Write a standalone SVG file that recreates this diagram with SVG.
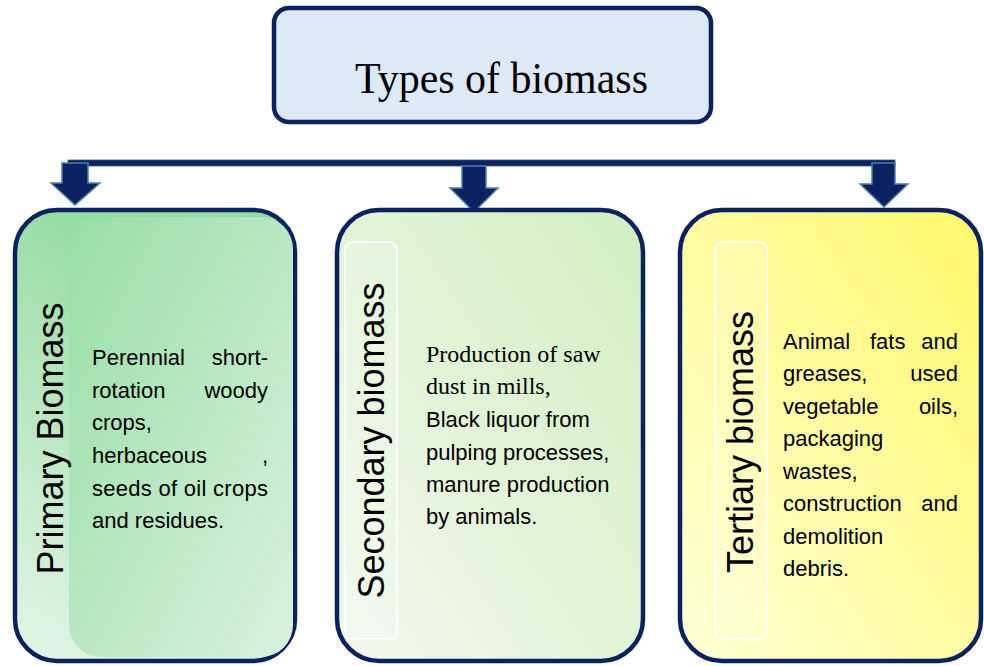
<svg xmlns="http://www.w3.org/2000/svg" width="984" height="666" viewBox="0 0 984 666">
<defs>
<linearGradient id="g1o" x1="0.3" y1="0" x2="0" y2="1">
<stop offset="0" stop-color="#93dba1"/><stop offset="1" stop-color="#e4f5e7"/>
</linearGradient>
<linearGradient id="g1i" x1="0" y1="0" x2="1" y2="1">
<stop offset="0" stop-color="#98dea6"/><stop offset="1" stop-color="#d9f1dd"/>
</linearGradient>
<linearGradient id="g2" x1="1" y1="0" x2="0" y2="1">
<stop offset="0" stop-color="#d2eec1"/><stop offset="1" stop-color="#f1f9ed"/>
</linearGradient>
<linearGradient id="g3" x1="1" y1="0" x2="0" y2="1">
<stop offset="0" stop-color="#fff86a"/><stop offset="1" stop-color="#ffffd6"/>
</linearGradient>
<style>
.box{stroke:#0b2262;stroke-width:4.5}
.arrow{fill:#0b2262;stroke:#4f7fae;stroke-width:1.5}
.strip{fill:#ffffff;fill-opacity:0.15;stroke:#ffffff;stroke-opacity:0.9;stroke-width:2}
.sans{font-family:"Liberation Sans",Arial,sans-serif;font-size:22px;fill:#000}
.serif{font-family:"Liberation Serif","Times New Roman",serif;font-size:24px;fill:#000}
.vert{font-family:"Liberation Sans",Arial,sans-serif;font-size:36px;fill:#000;text-anchor:middle}
.end{text-anchor:end}
</style>
</defs>
<rect width="984" height="666" fill="#ffffff"/>

<g id="connectors">
<rect x="68" y="160" width="827" height="6" fill="#0b2262" stroke="#2e5a8e" stroke-width="0.8"/>
<polygon class="arrow" points="62,163 88,163 88,183 100,183 75,205 51,183 62,183"/>
<polygon class="arrow" points="462,166 486,166 486,188 498,188 474,212 450,188 462,188"/>
<polygon class="arrow" points="872,163 895,163 895,184 908,184 884,207 860,184 872,184"/>
</g>

<g id="title">
<rect class="box" x="274" y="8" width="437" height="114" rx="15" fill="#dde9f5"/>
<text x="355" y="93" font-family="'Liberation Serif','Times New Roman',serif" font-size="44" textLength="293" lengthAdjust="spacingAndGlyphs" fill="#000">Types of biomass</text>
</g>

<g id="primary">
<rect class="box" x="15" y="210" width="280" height="451" rx="42" fill="url(#g1o)"/>
<rect x="69" y="217" width="224" height="440" rx="32" fill="url(#g1i)"/>
<text class="vert" transform="translate(63,438.5) rotate(-90)">Primary Biomass</text>
<text class="sans" x="92" y="365">Perennial</text><text class="sans end" x="268" y="365">short-</text>
<text class="sans" x="92" y="398">rotation</text><text class="sans end" x="268" y="398">woody</text>
<text class="sans" x="92" y="430">crops,</text>
<text class="sans" x="92" y="463">herbaceous</text><text class="sans end" x="268" y="463">,</text>
<text class="sans" x="92" y="496" textLength="176" lengthAdjust="spacing">seeds of oil crops</text>
<text class="sans" x="92" y="528">and residues.</text>
</g>

<g id="secondary">
<rect class="box" x="337" y="210" width="306" height="451" rx="42" fill="url(#g2)"/>
<rect class="strip" x="345" y="242" width="52" height="397" rx="8"/>
<text class="vert" transform="translate(384,440.5) rotate(-90)">Secondary biomass</text>
<text class="serif" x="426" y="362">Production of saw</text>
<text class="serif" x="426" y="394">dust in mills,</text>
<text class="sans" x="426" y="427">Black liquor from</text>
<text class="sans" x="426" y="460">pulping processes,</text>
<text class="sans" x="426" y="492">manure production</text>
<text class="sans" x="426" y="524">by animals.</text>
</g>

<g id="tertiary">
<rect class="box" x="680" y="210" width="301" height="451" rx="42" fill="url(#g3)"/>
<rect class="strip" x="715" y="242" width="52" height="397" rx="8"/>
<text class="vert" transform="translate(753,442) rotate(-90)">Tertiary biomass</text>
<text class="sans" x="783" y="349">Animal</text><text class="sans" x="870" y="349">fats</text><text class="sans end" x="958" y="349">and</text>
<text class="sans" x="783" y="381">greases,</text><text class="sans end" x="958" y="381">used</text>
<text class="sans" x="783" y="414">vegetable</text><text class="sans end" x="958" y="414">oils,</text>
<text class="sans" x="783" y="446">packaging</text>
<text class="sans" x="783" y="479">wastes,</text>
<text class="sans" x="783" y="511">construction</text><text class="sans end" x="958" y="511">and</text>
<text class="sans" x="783" y="544">demolition</text>
<text class="sans" x="783" y="576">debris.</text>
</g>
</svg>
